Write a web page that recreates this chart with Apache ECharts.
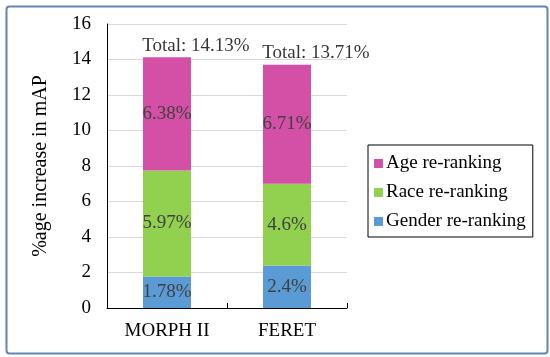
<!DOCTYPE html>
<html><head><meta charset="utf-8">
<script src="https://cdn.jsdelivr.net/npm/echarts@6/dist/echarts.min.js"></script>
<style>html,body{margin:0;padding:0;background:#fff}#c{width:550px;height:357px}</style>
</head><body><div id="c"></div>
<script>
const categories = ['MORPH II', 'FERET'];
const gender = [1.78, 2.4];
const race = [5.97, 4.6];
const age = [6.38, 6.71];
const totals = [14.13, 13.71];
const yTicks = [0, 2, 4, 6, 8, 10, 12, 14, 16];

const F = '"Liberation Serif", "Times New Roman", serif';
const chart = echarts.init(document.getElementById('c'), null, {renderer: 'canvas'});
const inLabel = {show: true, position: 'inside', color: '#404040', fontFamily: F, fontSize: 19,
  formatter: p => p.value + '%'};
chart.setOption({
  animation: false,
  graphic: [{type: 'rect', left: 4, top: 4, shape: {width: 541, height: 347, r: 3},
    style: {fill: 'none', stroke: '#6386b0', lineWidth: 2}, silent: true}],
  grid: {left: 107, right: 203, top: 24, bottom: 49, containLabel: false},
  legend: {
    data: ['Age re-ranking', 'Race re-ranking', 'Gender re-ranking'],
    orient: 'vertical', left: 368, top: 145,
    padding: [9, 7, 6, 6], itemGap: 10, itemWidth: 9, itemHeight: 9, icon: 'rect',
    borderColor: '#000', borderWidth: 1,
    textStyle: {fontFamily: F, fontSize: 19, color: '#000', padding: [0, 0, 0, -2]}
  },
  xAxis: {type: 'category', data: categories,
    axisLine: {lineStyle: {color: '#000', width: 1}},
    axisTick: {show: true, inside: true, length: 5, lineStyle: {color: '#000'}},
    axisLabel: {fontFamily: F, fontSize: 19, color: '#000', margin: 14}},
  yAxis: {type: 'value', min: 0, max: 16, interval: 2,
    name: '%age increase in mAP', nameLocation: 'middle', nameGap: 56, nameRotate: 90,
    nameTextStyle: {fontFamily: F, fontSize: 20, color: '#000'},
    axisLine: {show: true, lineStyle: {color: '#000'}},
    axisTick: {show: false},
    splitLine: {lineStyle: {color: '#d9d9d9'}},
    axisLabel: {fontFamily: F, fontSize: 19, color: '#000', margin: 16,
      formatter: v => yTicks.includes(v) ? String(v) : ''}},
  series: [
    {name: 'Gender re-ranking', type: 'bar', stack: 's', data: gender, barWidth: '40%',
      itemStyle: {color: '#5b9bd5'}, label: inLabel},
    {name: 'Race re-ranking', type: 'bar', stack: 's', data: race,
      itemStyle: {color: '#92d050'}, label: inLabel},
    {name: 'Age re-ranking', type: 'bar', stack: 's', data: age,
      itemStyle: {color: '#d350a6'}, label: inLabel},
    {name: 'Total', type: 'scatter', data: totals, symbolSize: 0, silent: true,
      label: {show: true, position: 'top', offset: [29, 0], distance: 2, color: '#000',
        fontFamily: F, fontSize: 19, formatter: p => 'Total: ' + p.value + '%'}}
  ]
});
</script></body></html>
